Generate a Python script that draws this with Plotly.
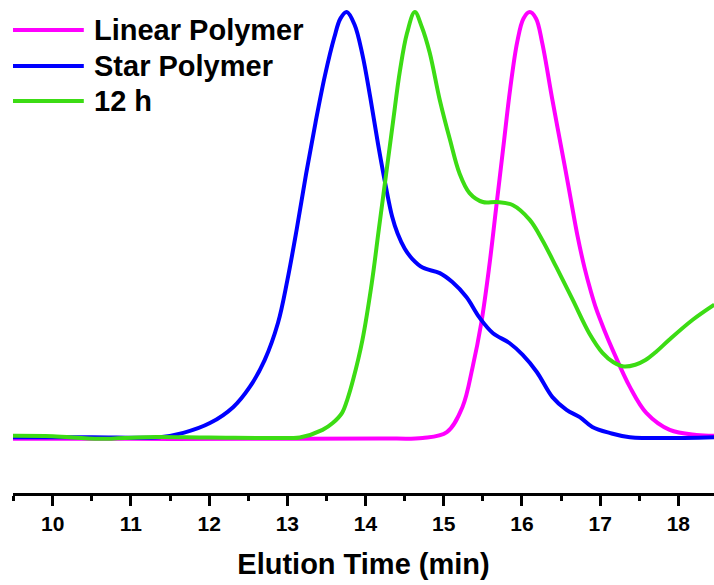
import plotly.graph_objects as go

# Elution time (min) and normalized RI intensity
linear_t = [9.49, 11.0, 12.5, 14.18, 14.73, 15.04, 15.24, 15.37, 15.48, 15.58, 15.67, 15.76,
            15.85, 15.94, 16.02, 16.10, 16.18, 16.26, 16.39, 16.55, 16.63, 16.71, 16.80, 16.88,
            16.95, 17.05, 17.16, 17.38, 17.59, 17.89, 18.23, 18.46]
linear_i = [-0.002, -0.002, -0.002, -0.001, 0.000, 0.014, 0.073, 0.167, 0.270, 0.400, 0.540, 0.680,
            0.820, 0.930, 0.985, 1.000, 0.985, 0.927, 0.793, 0.636, 0.555, 0.475, 0.400, 0.345,
            0.303, 0.255, 0.207, 0.120, 0.059, 0.019, 0.007, 0.005]

star_t = [9.49, 10.5, 11.37, 11.67, 12.01, 12.31, 12.52, 12.71, 12.88, 13.00, 13.12, 13.24,
          13.36, 13.48, 13.60, 13.68, 13.76, 13.86, 13.96, 14.06, 14.16, 14.26, 14.34, 14.41,
          14.50, 14.60, 14.73, 14.95, 15.11, 15.29, 15.46, 15.63, 15.84, 16.01, 16.19, 16.39,
          16.57, 16.74, 16.90, 17.12, 17.38, 18.46]
star_i = [0.002, 0.002, 0.002, 0.012, 0.035, 0.073, 0.120, 0.183, 0.270, 0.370, 0.490, 0.620,
          0.740, 0.850, 0.940, 0.985, 1.000, 0.970, 0.900, 0.800, 0.690, 0.590, 0.520, 0.480,
          0.445, 0.420, 0.400, 0.387, 0.366, 0.331, 0.282, 0.246, 0.223, 0.195, 0.155, 0.096,
          0.066, 0.049, 0.026, 0.012, 0.002, 0.002]

h12_t = [9.49, 10.0, 10.6, 11.2, 12.0, 13.0, 13.16, 13.45, 13.58, 13.70, 13.77, 13.84, 13.96,
         14.08, 14.17, 14.26, 14.35, 14.44, 14.53, 14.63, 14.72, 14.82, 14.95, 15.08, 15.20,
         15.33, 15.50, 15.68, 15.88, 16.10, 16.26, 16.44, 16.65, 16.86, 17.03, 17.17, 17.30,
         17.45, 17.58, 17.72, 17.88, 18.18, 18.46]
h12_i = [0.005, 0.004, -0.002, 0.002, 0.001, 0.000, 0.001, 0.019, 0.035, 0.059, 0.092, 0.136, 0.230,
         0.364, 0.490, 0.615, 0.740, 0.862, 0.950, 1.000, 0.965, 0.905, 0.793, 0.700, 0.622,
         0.575, 0.554, 0.554, 0.547, 0.512, 0.465, 0.401, 0.324, 0.246, 0.200, 0.178, 0.168,
         0.172, 0.183, 0.203, 0.230, 0.277, 0.313]

names = ["Linear Polymer", "Star Polymer", "12 h"]
colors = ["#FF00FF", "#0000FF", "#3CDC14"]
series = [(linear_t, linear_i), (star_t, star_i), (h12_t, h12_i)]
x_ticks = [10, 11, 12, 13, 14, 15, 16, 17, 18]

fig = go.Figure()
for (t, i), n, c in zip(series, names, colors):
    fig.add_trace(go.Scatter(x=t, y=i, name=n, mode="lines",
                             line=dict(color=c, width=4, shape="spline", smoothing=1.0),
                             showlegend=False))

font_fam = "Liberation Sans, Arial, Helvetica, sans-serif"

# custom legend (long line samples)
leg_y = [0.939, 0.866, 0.795]
shapes = []
annotations = []
for n, c, y in zip(names, colors, leg_y):
    shapes.append(dict(type="line", xref="paper", yref="paper", x0=0.0, x1=0.101, y0=y, y1=y,
                       line=dict(color=c, width=4)))
    annotations.append(dict(xref="paper", yref="paper", x=0.113, y=y, xanchor="left",
                            yanchor="middle", text=n, showarrow=False,
                            font=dict(family=font_fam, size=29, color="black", weight="bold")))

fig.update_layout(
    width=714, height=585,
    margin=dict(l=13, r=0, t=0, b=92),
    paper_bgcolor="white", plot_bgcolor="white",
    shapes=shapes, annotations=annotations,
    xaxis=dict(range=[9.492, 18.456], tickvals=x_ticks, ticktext=[str(v) for v in x_ticks],
               showline=True, linecolor="black", linewidth=3, ticks="outside", ticklen=10,
               tickwidth=3, tickcolor="black", showgrid=False, zeroline=False,
               minor=dict(dtick=0.5, tick0=0, ticks="outside", ticklen=5, tickwidth=3,
                          tickcolor="black", showgrid=False),
               tickfont=dict(family=font_fam, size=21, color="black", weight="bold"),
               title=dict(text="Elution Time (min)", standoff=20,
                          font=dict(family=font_fam, size=29, color="black", weight="bold"))),
    yaxis=dict(visible=False, range=[-0.1291, 1.0282]),
)

fig.write_html("out.html")
